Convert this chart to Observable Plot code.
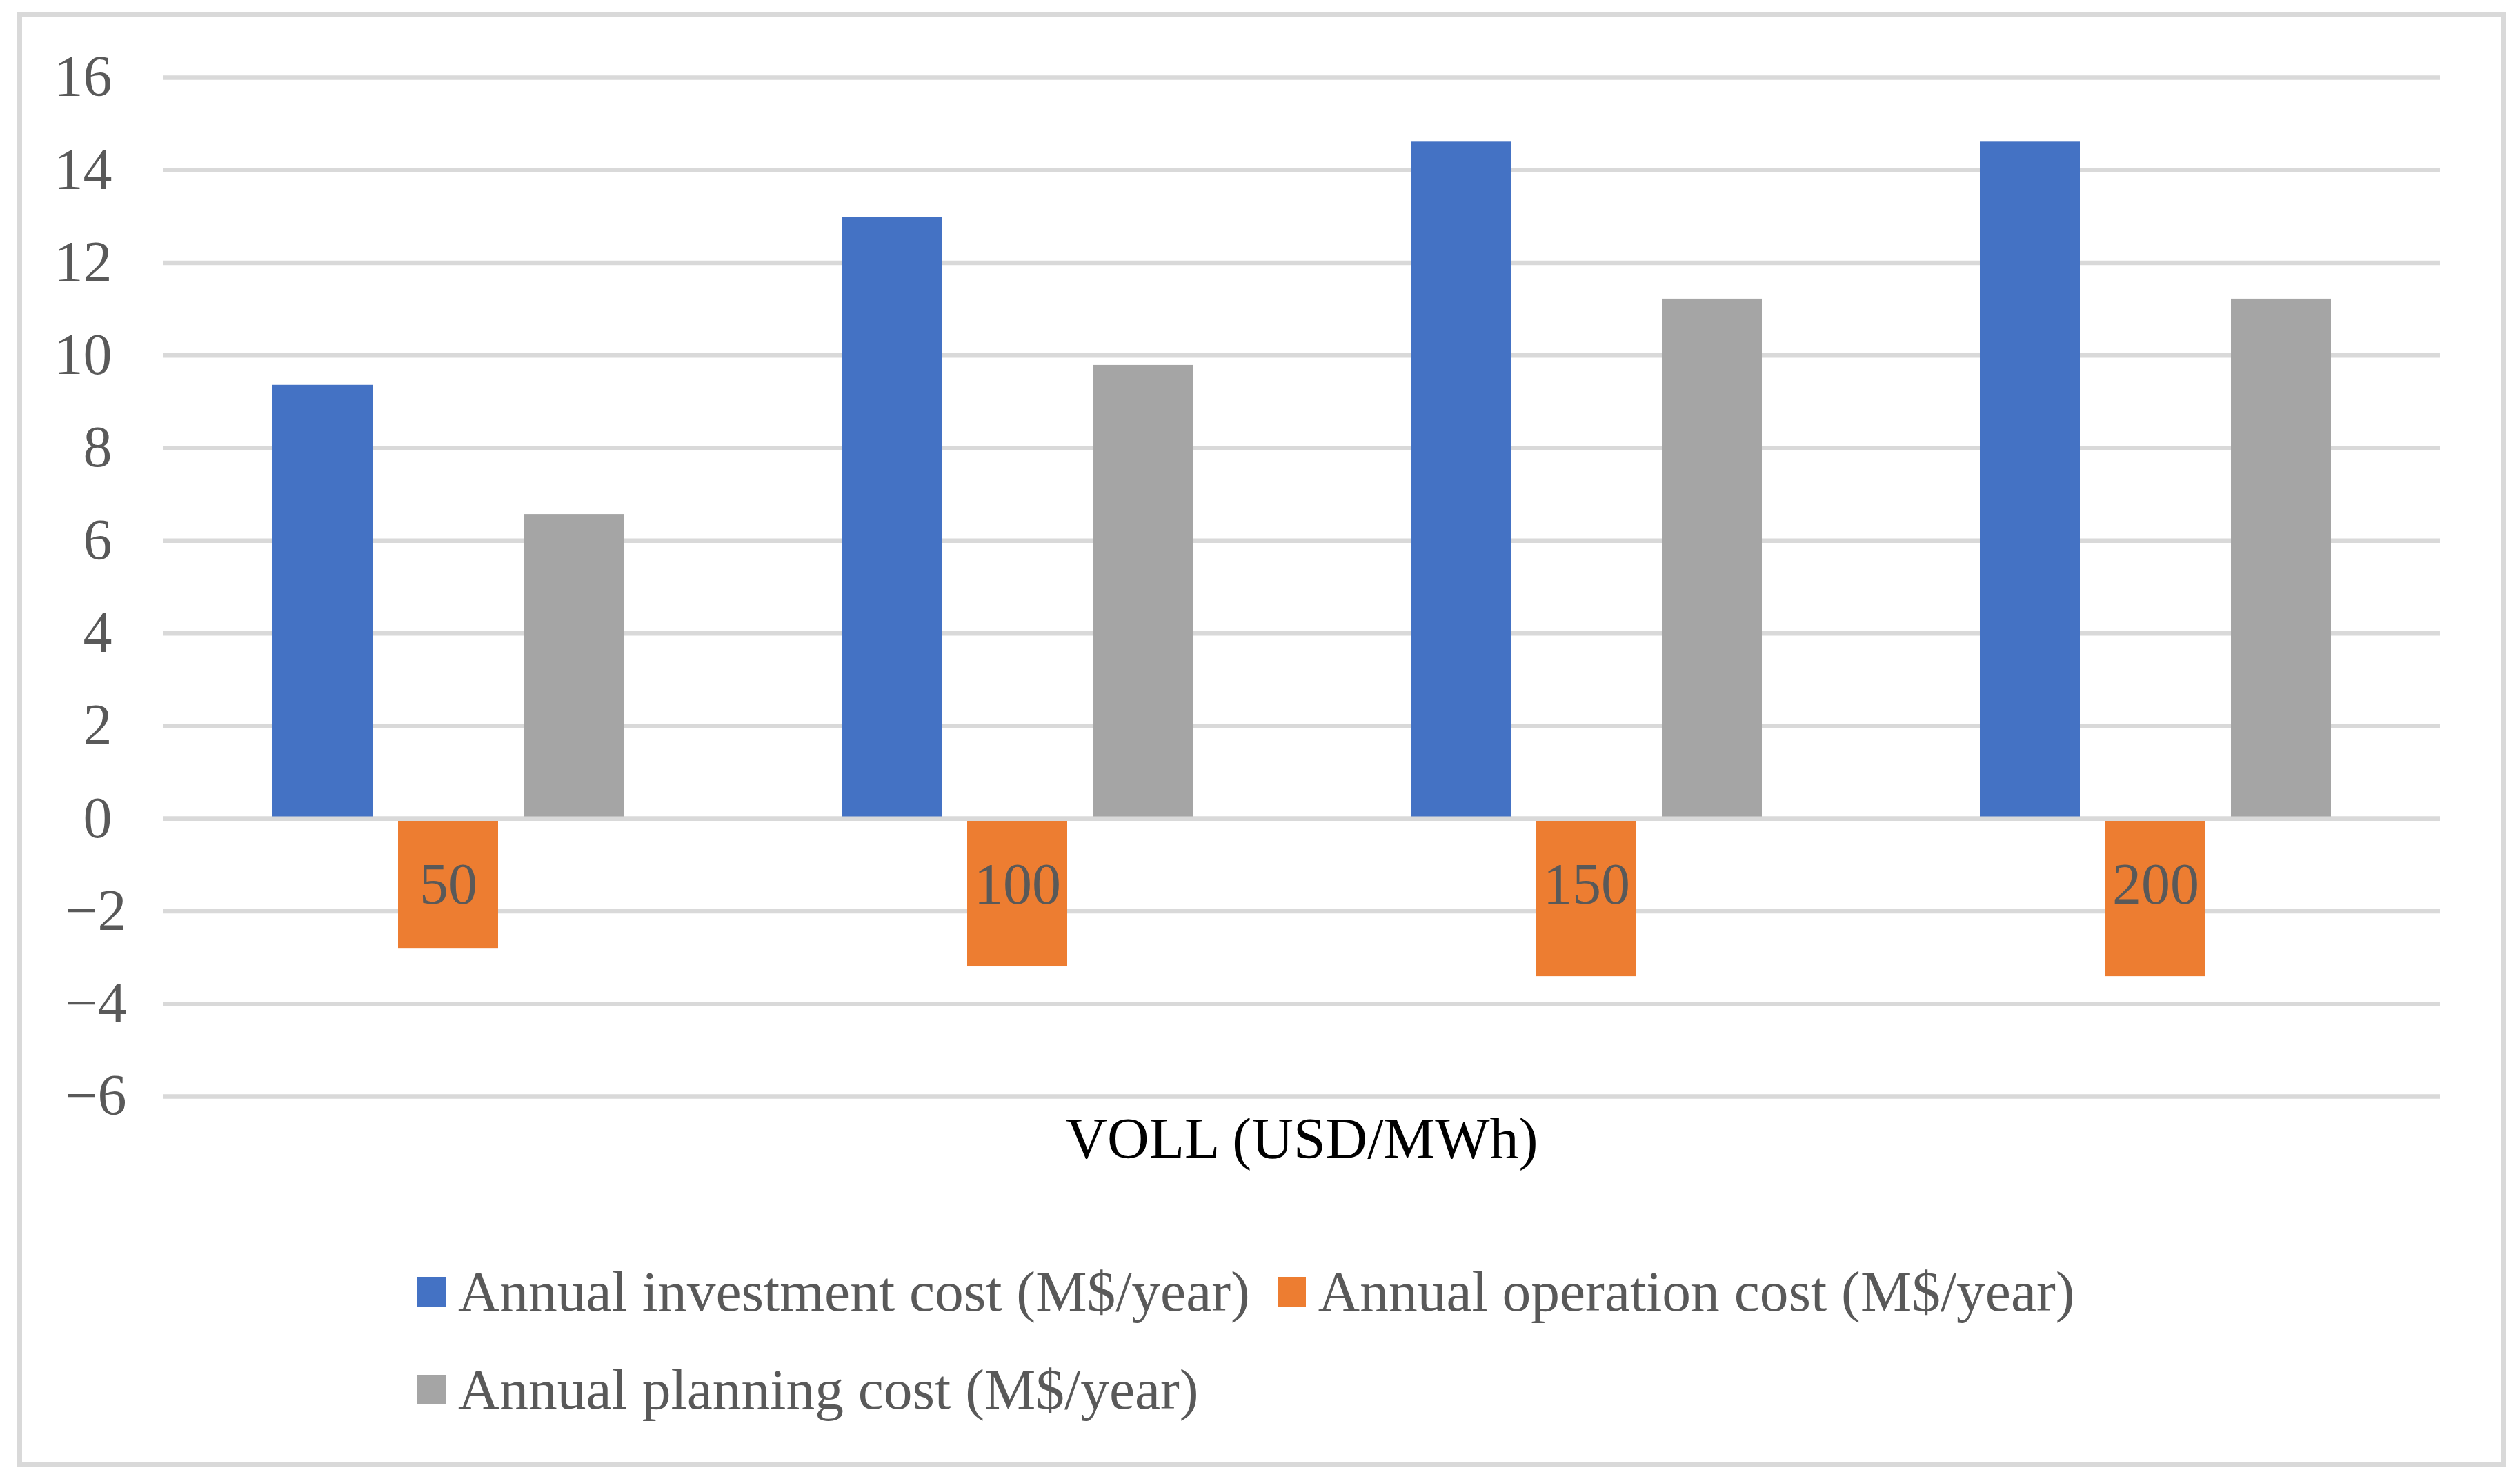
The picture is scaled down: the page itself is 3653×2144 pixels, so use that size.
<!DOCTYPE html>
<html><head><meta charset="utf-8">
<script src="https://cdn.jsdelivr.net/npm/d3@7"></script>
<script src="https://cdn.jsdelivr.net/npm/@observablehq/plot@0.6"></script>
<style>
html,body{margin:0;padding:0;background:#fff;width:3653px;height:2144px;overflow:hidden;}
#chart{position:absolute;left:0;top:0;}
#frame{position:absolute;left:25px;top:18px;width:3607px;height:2108px;box-sizing:border-box;border:7px solid #d9d9d9;pointer-events:none;}
#xtitle{position:absolute;left:236px;width:3302px;top:1601px;text-align:center;font-family:"Liberation Serif","Times New Roman",serif;font-size:84px;line-height:100px;color:#000;}
#legend{position:absolute;left:605px;top:1801px;width:2700px;display:flex;flex-wrap:wrap;font-family:"Liberation Serif","Times New Roman",serif;font-size:83.5px;color:#595959;}
.item{display:flex;align-items:center;height:142px;margin-right:40px;white-space:nowrap;}
.sw{width:41px;height:43px;margin-right:18px;flex:none;}
</style></head><body>
<div id="chart"></div>
<div id="frame"></div>
<div id="xtitle">VOLL (USD/MWh)</div>
<div id="legend"></div>
<script>
const categories = ["50", "100", "150", "200"];
const seriesNames = ["Annual investment cost (M$/year)", "Annual operation cost (M$/year)", "Annual planning cost (M$/year)"];
const investment = [9.36, 12.98, 14.61, 14.61];
const operation = [-2.80, -3.20, -3.41, -3.41];
const planning = [6.57, 9.79, 11.22, 11.22];
const colors = ["#4472C4", "#ED7D31", "#A5A5A5"];
const yTicks = [-6, -4, -2, 0, 2, 4, 6, 8, 10, 12, 14, 16];

const seriesValues = [investment, operation, planning];
const data = [];
categories.forEach((c, i) => {
  seriesNames.forEach((s, j) => data.push({category: c, series: s, value: seriesValues[j][i]}));
});

const plot = Plot.plot({
  width: 3653, height: 1660,
  marginLeft: 236, marginRight: 115, marginTop: 112, marginBottom: 71,
  style: {fontFamily: '"Liberation Serif","Times New Roman",serif', fontSize: "84px", color: "#595959", background: "transparent"},
  fx: {domain: categories, padding: 0, axis: null, label: null},
  x: {domain: seriesNames, paddingInner: 0.2055, paddingOuter: 0.864, axis: null},
  y: {domain: [-6, 16], ticks: yTicks, tickSize: 0, tickPadding: 54, label: null,
      tickFormat: d => d < 0 ? "\u2212" + Math.abs(d) : d + "\u00a0"},
  color: {domain: seriesNames, range: colors},
  marks: [
    Plot.ruleY(yTicks, {stroke: "#d9d9d9", strokeWidth: 6.5}),
    Plot.barY(data, {fx: "category", x: "series", y: "value", fill: "series"}),
    Plot.ruleY([0], {stroke: "#d9d9d9", strokeWidth: 6.5}),
    Plot.text(categories, {fx: d => d, y: () => 0, text: d => d, dy: 96, fontSize: 84, fill: "#595959"})
  ]
});
document.getElementById("chart").appendChild(plot);

const legend = d3.select("#legend");
const items = legend.selectAll("div.item").data(seriesNames).join("div").attr("class", "item");
items.append("div").attr("class", "sw").style("background", (d, i) => colors[i]);
items.append("span").text(d => d);
</script>
</body></html>
